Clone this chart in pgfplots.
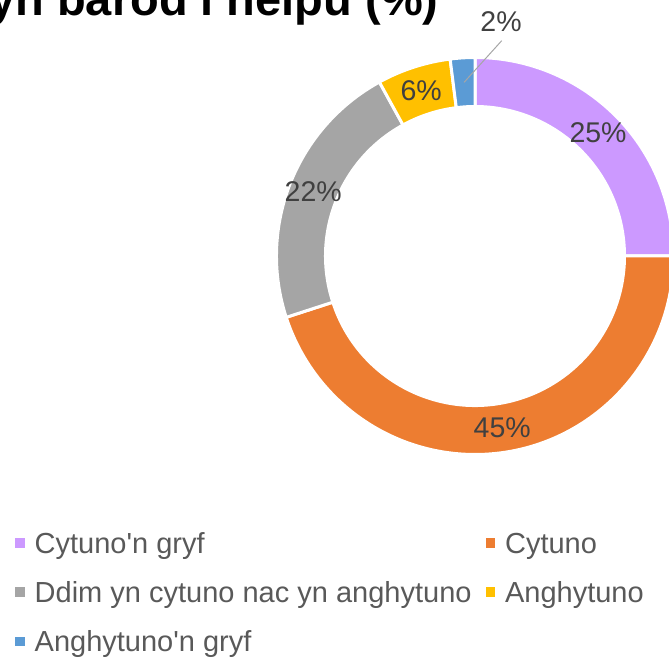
\documentclass[border=0pt]{standalone}
\usepackage{pgfplots}
\pgfplotsset{compat=1.18}
\usepackage{pgfplotstable}
\usepackage{fontspec}
\setmainfont{Liberation Sans}
\definecolor{cpurple}{HTML}{CC99FF}
\definecolor{corange}{HTML}{ED7D31}
\definecolor{cgray}{HTML}{A5A5A5}
\definecolor{cyellow}{HTML}{FFC000}
\definecolor{cblue}{HTML}{5B9BD5}
\definecolor{labeltext}{HTML}{404040}
\definecolor{legtext}{HTML}{595959}
\definecolor{leader}{HTML}{A6A6A6}

\pgfplotstableread[col sep=comma]{
name,value,colour
Cytuno'n gryf,25,cpurple
Cytuno,45,corange
Ddim yn cytuno nac yn anghytuno,22,cgray
Anghytuno,6,cyellow
Anghytuno'n gryf,2,cblue
}\donut

\tikzset{lbl/.style={font=\fontsize{28.5bp}{34bp}\selectfont, text=labeltext, inner sep=0pt}}

\begin{document}
\begin{tikzpicture}
\begin{axis}[x=1bp, y=1bp, xmin=0, xmax=669, ymin=0, ymax=657, hide axis,
  legend columns=2, legend cell align=left,
  legend image code/.code={\fill[#1, draw=none] (0bp,-1.5bp) rectangle (9.5bp,8bp);},
  legend style={at={(axis cs:15,125)}, anchor=north west, draw=none, fill=none,
     inner sep=0pt, font=\fontsize{29bp}{34bp}\selectfont, text=legtext, row sep=21.2bp,
     nodes={inner sep=0pt, text height=21bp, text depth=7bp},
     /tikz/every odd column/.append style={column sep=10bp},
     /tikz/every even column/.append style={column sep=14bp}}]
\def\cx{475}\def\cy{401}
\gdef\angstart{90}
\pgfplotsinvokeforeach{0,...,4}{%
  \pgfplotstablegetelem{#1}{value}\of\donut \global\let\val\pgfplotsretval
  \pgfplotstablegetelem{#1}{colour}\of\donut \global\let\col\pgfplotsretval
  \pgfmathsetmacro{\angend}{\angstart-3.6*\val}
  \pgfmathsetmacro{\angmid}{(\angstart+\angend)/2}
  \edef\temp{\noexpand\filldraw[fill=\col, draw=white, line width=3bp]
    ([shift={(\angstart:198.5bp)}]axis cs:\cx,\cy)
    arc[start angle=\angstart, end angle=\angend, radius=198.5bp]
    -- ([shift={(\angend:149.5bp)}]axis cs:\cx,\cy)
    arc[start angle=\angend, end angle=\angstart, radius=149.5bp] -- cycle;}
  \temp
  \ifdim\val pt<4pt
    \edef\temp{\noexpand\draw[leader, line width=1bp]
      ([shift={(\angmid:174bp)}]axis cs:\cx,\cy) -- (axis cs:501.7,616.3);
      \noexpand\node[lbl] at (axis cs:501,635.3) {\val\noexpand\%};}
  \else
    \edef\temp{\noexpand\node[lbl] at ([shift={(\angmid:174bp)}]axis cs:\cx,\cy) {\val\noexpand\%};}
  \fi
  \temp
  \global\let\angstart\angend
}
\node[anchor=base east, font=\bfseries\fontsize{47bp}{56bp}\selectfont] at (axis cs:442,641) {yn barod i helpu (\%)};
\addlegendimage{fill=cpurple}
\addlegendimage{fill=corange}
\addlegendimage{fill=cgray}
\addlegendimage{fill=cyellow}
\addlegendimage{fill=cblue}
\legend{Cytuno\textquotesingle n gryf, Cytuno, Ddim yn cytuno nac yn anghytuno, Anghytuno, Anghytuno\textquotesingle n gryf}
\end{axis}
\end{tikzpicture}
\end{document}
